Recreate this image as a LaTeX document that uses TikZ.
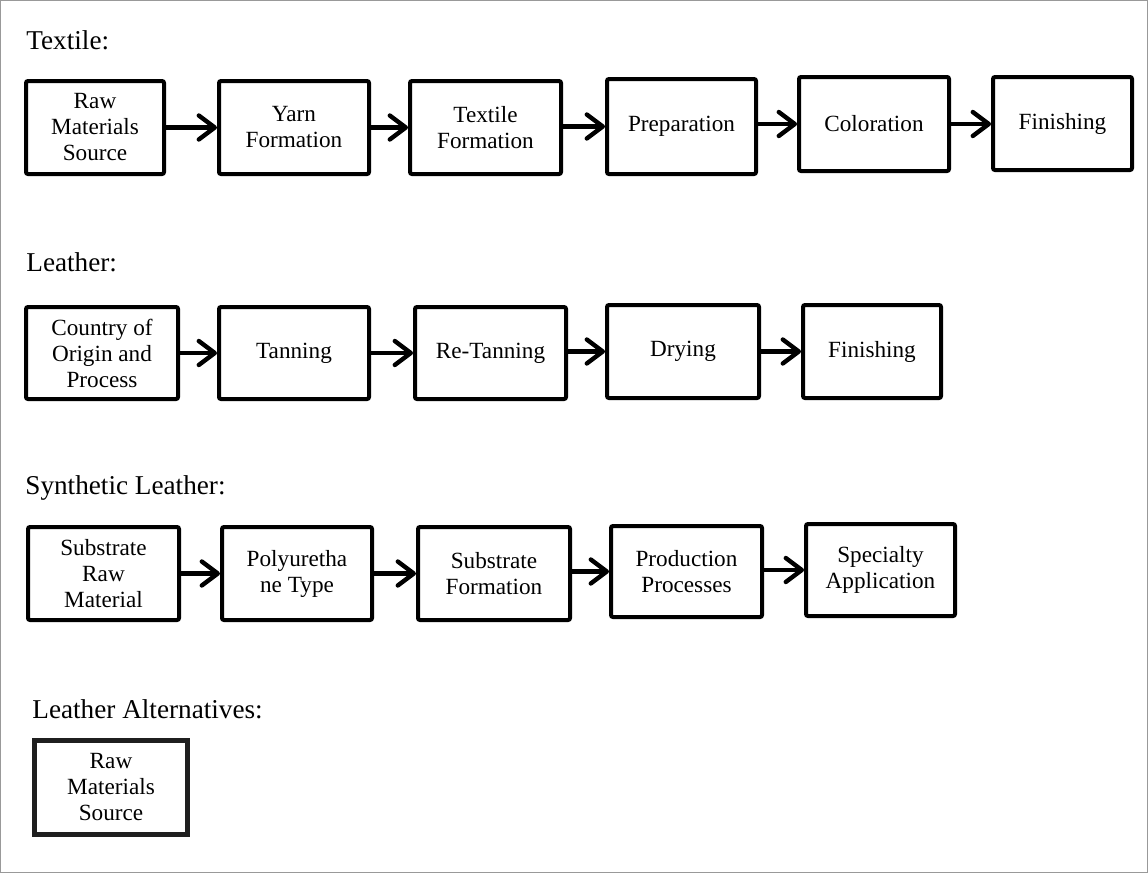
\documentclass[tikz,border=0pt]{standalone}
\usepackage{fontspec}
\setmainfont{Liberation Serif}
\usetikzlibrary{arrows.meta}
\newcommand\bxfont{\fontsize{11.6}{13}\selectfont}
\newcommand\hdfont{\fontsize{13.6}{16}\selectfont}

\begin{document}
\begin{tikzpicture}[x=0.5pt, y=-0.5pt,
  box/.style={draw, line width=2pt, rounded corners=1pt, align=center, inner sep=0pt, font=\bxfont},
  arr/.style={line width=2.2pt, -{Straight Barb[length=8pt, width=12pt, round]}},
  head/.style={anchor=base west, inner sep=0pt, font=\hdfont}]
\useasboundingbox (0,0) rectangle (1148,873);
\draw[gray!80, line width=0.5pt] (0.5,0.5) rectangle (1147.5,872.5);

\node[head] (ht) at (26,49) {Textile:};
\node[box, minimum width=69pt, minimum height=46.5pt] (t1) at (95,127.5) {Raw\\Materials\\Source};
\node[box, minimum width=75pt, minimum height=46.5pt] (t2) at (294,127.5) {Yarn\\Formation};
\node[box, minimum width=75.5pt, minimum height=46.5pt] (t3) at (485.5,127.5) {Textile\\Formation};
\node[box, minimum width=74.5pt, minimum height=47.5pt] (t4) at (681.5,126.5) {Preparation};
\node[box, minimum width=75pt, minimum height=47pt] (t5) at (874,124) {Coloration};
\node[box, minimum width=69.5pt, minimum height=46.5pt] (t6) at (1062.5,123.5) {Finishing};
\draw[arr] (t1) -- (t2);
\draw[arr] (t2) -- (t3);
\draw[arr] (t3.east |- t4) -- (t4);
\draw[arr] (t4.east |- t5) -- (t5);
\draw[arr] (t5) -- (t5 -| t6.west);

\node[head] (hl) at (26,271) {Leather:};
\node[box, minimum width=76pt, minimum height=46pt] (l1) at (102,353) {Country of\\Origin and\\Process};
\node[box, minimum width=75pt, minimum height=46pt] (l2) at (294,353) {Tanning};
\node[box, minimum width=75.5pt, minimum height=46pt] (l3) at (490.5,353) {Re-Tanning};
\node[box, minimum width=76pt, minimum height=46.5pt] (l4) at (683,351.5) {Drying};
\node[box, minimum width=69pt, minimum height=46.5pt] (l5) at (872,351.5) {Finishing};
\draw[arr] (l1) -- (l2);
\draw[arr] (l2) -- (l3);
\draw[arr] (l3.east |- l4) -- (l4);
\draw[arr] (l4) -- (l5);

\node[head] (hs) at (25,494) {Synthetic Leather:};
\node[box, minimum width=75.5pt, minimum height=46.5pt] (s1) at (103.5,573.5) {Substrate\\Raw\\Material};
\node[box, minimum width=75pt, minimum height=46.5pt] (s2) at (297,573.5) {Polyuretha\\ne Type};
\node[box, minimum width=76pt, minimum height=46.5pt] (s3) at (494,573.5) {Substrate\\Formation};
\node[box, minimum width=75.5pt, minimum height=45.5pt] (s4) at (686.5,571.5) {Production\\Processes};
\node[box, minimum width=74.5pt, minimum height=46pt] (s5) at (880.5,570) {Specialty\\Application};
\draw[arr] (s1) -- (s2);
\draw[arr] (s2) -- (s3);
\draw[arr] (s3.east |- s4) -- (s4);
\draw[arr] (s4.east |- s5) -- (s5);

\node[head] (ha) at (32,718) {Leather Alternatives:};
\node[box, draw=black!88, line width=2.5pt, rounded corners=0pt, minimum width=76.5pt, minimum height=47pt] (a1) at (111,787.5) {Raw\\Materials\\Source};
\end{tikzpicture}
\end{document}
